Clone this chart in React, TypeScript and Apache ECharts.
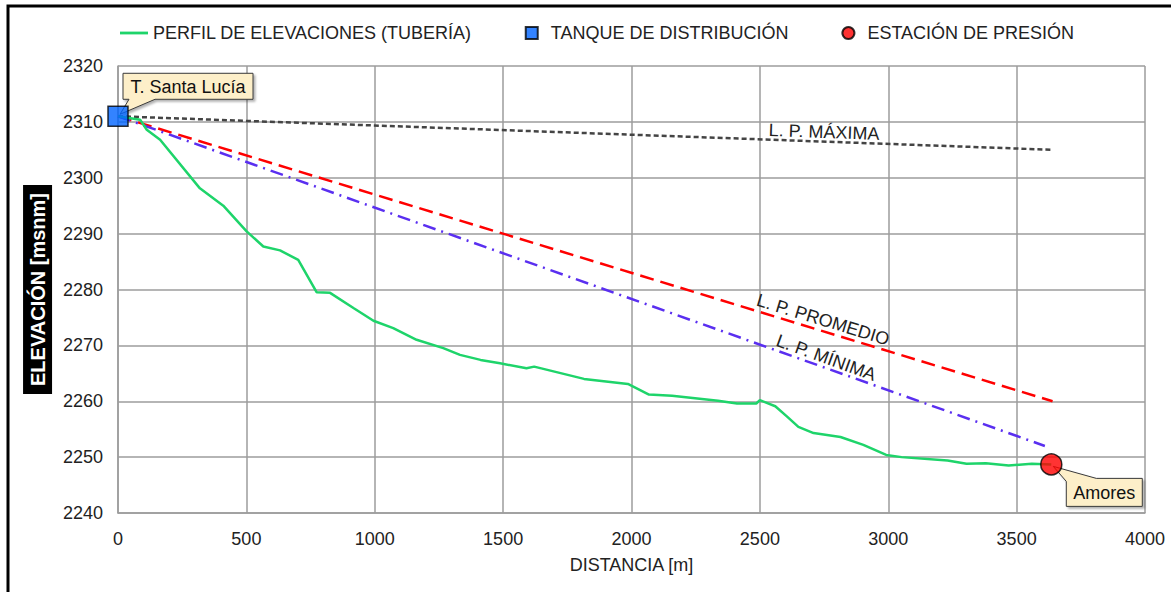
import React, { useEffect, useRef } from "react";
import * as echarts from "echarts";

// Elevation profile (pipe)
const distance = [0, 86, 112, 164, 319, 410, 501, 566, 631, 702, 774, 826, 917, 995, 1072, 1163, 1267, 1332, 1412, 1488, 1591, 1621, 1815, 1986, 2068, 2158, 2337, 2411, 2486, 2500, 2560, 2605, 2650, 2709, 2814, 2903, 2992, 3052, 3231, 3305, 3380, 3469, 3559, 3635];
const elevation = [2311, 2310.4, 2308.6, 2306.8, 2298.1, 2295, 2290.4, 2287.7, 2287, 2285.3, 2279.5, 2279.4, 2276.7, 2274.4, 2273.1, 2271, 2269.5, 2268.3, 2267.4, 2266.8, 2265.9, 2266.2, 2264, 2263.1, 2261.2, 2261, 2260.1, 2259.6, 2259.6, 2260.2, 2259.1, 2257.3, 2255.4, 2254.3, 2253.6, 2252.2, 2250.4, 2250, 2249.4, 2248.8, 2248.9, 2248.5, 2248.8, 2248.7];

// Piezometric lines
const maxLineX = [0, 3640];
const maxLineY = [2311, 2305];
const avgLineX = [0, 3640];
const avgLineY = [2311, 2260];
const minLineX = [0, 3610];
const minLineY = [2311, 2252];

// Points
const tank = [0, 2311];
const station = [3635, 2248.7];

// Label anchors (data coords)
const maxLabel = { text: "L. P. MÁXIMA", x: 2750, y: 2308.2, angle: 2 };
const avgLabel = { text: "L. P. PROMEDIO", x: 2746, y: 2274.6, angle: 17 };
const minLabel = { text: "L. P. MÍNIMA", x: 2758, y: 2267.8, angle: 20 };

const FONT = "'Liberation Sans', Arial, sans-serif";

function zip(xs: number[], ys: number[]) {
  return xs.map((x, i) => [x, ys[i]]);
}

export default function App() {
  const ref = useRef<HTMLDivElement>(null);
  useEffect(() => {
    if (!ref.current) return;
    const chart = echarts.init(ref.current, null, { renderer: "svg" });
    const grid = "#9c9c9c";
    chart.setOption({
      animation: false,
      backgroundColor: "#fff",
      textStyle: { fontFamily: FONT },
      grid: { left: 118, right: 26, top: 66, bottom: 79 },
      legend: {
        left: 115,
        top: 19,
        itemGap: 53,
        itemWidth: 28,
        itemHeight: 12,
        textStyle: { fontFamily: FONT, fontSize: 18, color: "#222" },
        data: [
          { name: "PERFIL DE ELEVACIONES (TUBERÍA)", icon: "path://M0,0 H30 V3 H0 Z" },
          { name: "TANQUE DE DISTRIBUCIÓN", icon: "path://M0,0 H10 V10 H0 Z" },
          { name: "ESTACIÓN DE PRESIÓN", icon: "path://M5,0 A5,5 0 1,1 4.99,0 Z" },
        ],
      },
      xAxis: {
        type: "value",
        min: 0,
        max: 4000,
        interval: 500,
        name: "DISTANCIA [m]",
        nameLocation: "middle",
        nameGap: 43,
        nameTextStyle: { fontFamily: FONT, fontSize: 18, color: "#222" },
        axisLine: { show: true, lineStyle: { color: grid, width: 1.5 } },
        axisTick: { show: false },
        axisLabel: { fontFamily: FONT, fontSize: 18, color: "#222", margin: 17, formatter: (v: number) => String(v) },
        splitLine: { show: true, lineStyle: { color: grid, width: 1.5 } },
      },
      yAxis: {
        type: "value",
        min: 2240,
        max: 2320,
        interval: 10,
        name: "ELEVACIÓN [msnm]",
        nameLocation: "middle",
        nameRotate: 90,
        nameGap: 63,
        nameTextStyle: {
          fontFamily: FONT,
          fontSize: 20,
          fontWeight: "bold",
          color: "#fff",
          backgroundColor: "#000",
          padding: [5, 8, 4, 8],
        },
        axisLine: { show: true, lineStyle: { color: grid, width: 1.5 } },
        axisTick: { show: false },
        axisLabel: { fontFamily: FONT, fontSize: 18, color: "#222", margin: 15, formatter: (v: number) => String(v) },
        splitLine: { show: true, lineStyle: { color: grid, width: 1.5 } },
      },
      series: [
        {
          name: "L. P. MÁXIMA",
          type: "line",
          data: zip(maxLineX, maxLineY),
          symbol: "none",
          lineStyle: { color: "#444", width: 2.5, type: [5, 3] },
          z: 3,
        },
        {
          name: "L. P. PROMEDIO",
          type: "line",
          data: zip(avgLineX, avgLineY),
          symbol: "none",
          lineStyle: { color: "#ff0000", width: 2.5, type: [14, 7] },
          z: 3,
        },
        {
          name: "L. P. MÍNIMA",
          type: "line",
          data: zip(minLineX, minLineY),
          symbol: "none",
          lineStyle: { color: "#5a2ff0", width: 2.5, type: [13, 6, 2, 6] },
          z: 3,
        },
        {
          name: "PERFIL DE ELEVACIONES (TUBERÍA)",
          type: "line",
          data: zip(distance, elevation),
          symbol: "none",
          itemStyle: { color: "#1ed46a" },
          lineStyle: { color: "#1ed46a", width: 2.5 },
          z: 4,
        },
        {
          name: "TANQUE DE DISTRIBUCIÓN",
          type: "scatter",
          data: [tank],
          symbol: "rect",
          symbolSize: 20,
          itemStyle: { color: "#0064ff", borderColor: "#000", borderWidth: 1.5 },
          z: 6,
        },
        {
          name: "ESTACIÓN DE PRESIÓN",
          type: "scatter",
          data: [station],
          symbol: "circle",
          symbolSize: 21,
          itemStyle: { color: "#ff0000", borderColor: "#000", borderWidth: 1.5 },
          z: 6,
        },
      ],
    });

    const px = (p: number[]) => chart.convertToPixel({ gridIndex: 0 }, p) as number[];
    const t = px(tank);
    const s = px(station);
    const calloutStyle = {
      fill: "#fdefc9",
      stroke: "#3a3a3a",
      lineWidth: 1,
      shadowBlur: 2,
      shadowOffsetX: 2,
      shadowOffsetY: 2,
      shadowColor: "rgba(0,0,0,0.3)",
    };
    // Santa Lucía callout
    const a0 = t[0] + 5, a1 = t[0] + 135, b0 = t[1] - 43, b1 = t[1] - 17;
    // Amores callout
    const c0 = s[0] + 15, c1 = s[0] + 91, d0 = s[1] + 14, d1 = s[1] + 42;
    const lineLabel = (l: { text: string; x: number; y: number; angle: number }) => {
      const p = px([l.x, l.y]);
      return {
        type: "text",
        x: p[0],
        y: p[1],
        rotation: (-l.angle * Math.PI) / 180,
        z: 10,
        style: {
          text: l.text,
          fontFamily: FONT,
          fontSize: 18,
          fill: "#222",
          align: "center",
          verticalAlign: "middle",
        },
      };
    };
    chart.setOption({
      graphic: [
        {
          type: "rect",
          shape: { x: 8, y: 6, width: 1300, height: 800 },
          style: { fill: "none", stroke: "#000", lineWidth: 3 },
          silent: true,
          z: 100,
        },
        {
          type: "polygon",
          z: 1,
          shape: {
            points: [
              [a0, b0], [a1, b0], [a1, b1], [a0 + 32, b1], [t[0] + 2, t[1] - 2], [a0 + 6, b1], [a0, b1],
            ],
          },
          style: calloutStyle,
        },
        {
          type: "text",
          x: (a0 + a1) / 2,
          y: (b0 + b1) / 2 + 1,
          z: 2,
          style: { text: "T. Santa Lucía", fontFamily: FONT, fontSize: 18, fill: "#111", align: "center", verticalAlign: "middle" },
        },
        {
          type: "polygon",
          z: 1,
          shape: {
            points: [
              [s[0] + 2, s[1] + 2], [c0 + 30, d0], [c1, d0], [c1, d1], [c0, d1], [c0, d0 + 3],
            ],
          },
          style: calloutStyle,
        },
        {
          type: "text",
          x: (c0 + c1) / 2,
          y: (d0 + d1) / 2 + 1,
          z: 2,
          style: { text: "Amores", fontFamily: FONT, fontSize: 18, fill: "#111", align: "center", verticalAlign: "middle" },
        },
        lineLabel(maxLabel),
        lineLabel(avgLabel),
        lineLabel(minLabel),
      ],
    });
    return () => chart.dispose();
  }, []);
  return (
    <div
      ref={ref}
      style={{ position: "fixed", left: 0, top: 0, width: 1171, height: 592, background: "#fff" }}
    />
  );
}
